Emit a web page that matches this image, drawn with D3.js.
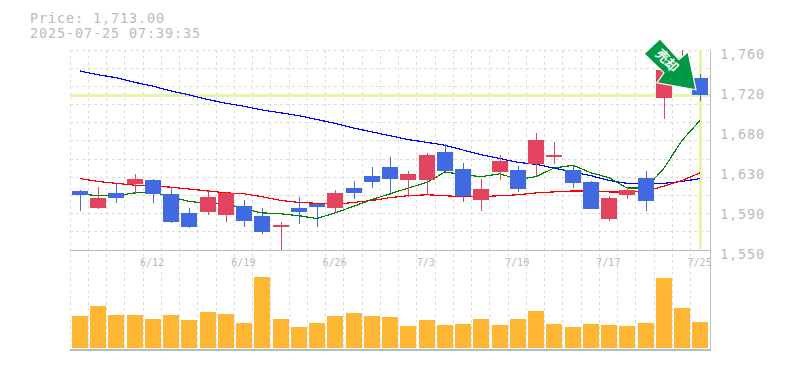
<!DOCTYPE html>
<html>
<head>
<meta charset="utf-8">
<script src="https://cdn.jsdelivr.net/npm/d3@7"></script>
<style>
  html, body { margin: 0; padding: 0; background: #fff; overflow: hidden; }
  text { font-family: "DejaVu Sans Mono", monospace; fill: #bbb; }
</style>
</head>
<body>
<script>
const dates = ["6/6","6/9","6/10","6/11","6/12","6/13","6/16","6/17","6/18","6/19","6/20","6/23","6/24","6/25","6/26","6/27","6/30","7/1","7/2","7/3","7/4","7/7","7/8","7/9","7/10","7/11","7/14","7/15","7/16","7/17","7/18","7/22","7/23","7/24","7/25"];
const dateTicks = ["6/12","6/19","6/26","7/3","7/10","7/17","7/25"];

const opens  = [1612,1594,1610,1619,1623,1609,1589,1590,1587,1596,1586,1574,1594,1598,1594,1615,1628,1637,1623,1623,1653,1635,1602,1632,1634,1640,1648,1634,1621,1583,1608,1626,1710,1728,1731];
const closes = [1608,1605,1605,1625,1609,1579,1574,1606,1610,1580,1569,1576,1590,1595,1610,1610,1621,1625,1630,1650,1633,1607,1614,1643,1614,1665,1650,1620,1593,1605,1613,1601,1739,1752,1713];
const highs  = [1613,1616,1620,1630,1625,1616,1594,1613,1611,1602,1594,1579,1606,1598,1613,1622,1637,1648,1633,1652,1661,1641,1625,1650,1638,1673,1663,1638,1622,1607,1616,1633,1750,1760,1735];
const lows   = [1591,1593,1599,1609,1599,1578,1573,1587,1579,1574,1567,1550,1577,1574,1589,1604,1615,1608,1606,1608,1633,1600,1591,1623,1611,1628,1640,1615,1593,1580,1604,1591,1688,1723,1706];
const volumes = [32,42,33,33,29,33,28,36,34,25,71,29,21,25,32,35,32,31,22,28,23,24,29,23,29,37,24,21,24,23,22,25,70,40,26];

const maShort = [1609,1607,1607,1610,1611,1606,1601,1599,1599,1593,1589,1588,1586,1583,1589,1596,1603,1609,1615,1621,1632,1629,1627,1630,1624,1627,1636,1639,1631,1626,1615,1615,1636,1665,1686];
const maMid   = [1625,1622,1620,1618,1617,1616,1614,1612,1610,1609,1606,1602,1600,1599,1598,1600,1602,1605,1607,1608,1607,1606,1606,1607,1608,1610,1611,1612,1612,1611,1611,1612,1617,1623,1631];
const maLong  = [1738,1734,1731,1726,1722,1717,1713,1708,1704,1701,1697,1694,1691,1687,1683,1678,1674,1670,1666,1663,1660,1655,1650,1646,1642,1640,1636,1632,1628,1623,1620,1619,1620,1622,1625];

const priceTicks  = [1760,1718,1676,1634,1592,1550];
const priceLabels = ["1,760","1,720","1,680","1,630","1,590","1,550"];
const lastPrice = 1713;
const titleLines = ["Price: 1,713.00","2025-07-25 07:39:35"];

const width = 785, height = 370;
const left = 70, right = 710, plotTop = 50, mid = 250, bottom = 350;
const candleW = 16;
const step = 18.25;

const svg = d3.select("body").append("svg")
  .attr("width", width)
  .attr("height", height)
  .style("display", "block");

const xBand = d3.scaleBand().domain(d3.range(dates.length)).range([left, left + dates.length * step]);
const y = d3.scaleLinear().domain([1550, 1760]).range([mid, plotTop]);
const yVol = d3.scaleLinear().domain([0, 100]).range([bottom - 2, bottom - 102]);

// 캔들 x 위치
const barX = i => Math.floor(xBand(i) + 2 + 0.3);
const midX = i => barX(i) + candleW / 2;

// 제목
svg.append("g").selectAll("text")
  .data(titleLines)
  .join("text")
  .attr("x", 30)
  .attr("y", (d, i) => 23 + i * 15)
  .attr("font-size", 13.5)
  .attr("letter-spacing", 0.87)
  .text(d => d);

// 그리드
const grid = svg.append("g")
  .attr("stroke", "#ddd")
  .attr("stroke-dasharray", "3,3")
  .attr("shape-rendering", "crispEdges");

grid.selectAll("line.h")
  .data(d3.range(11))
  .join("line")
  .classed("h", true)
  .attr("x1", left)
  .attr("x2", right)
  .attr("y1", d => Math.floor(plotTop + d * (mid - plotTop) / 11) + 0.5)
  .attr("y2", d => Math.floor(plotTop + d * (mid - plotTop) / 11) + 0.5);

grid.selectAll("line.v")
  .data(d3.range(dates.length))
  .join("line")
  .classed("v", true)
  .attr("x1", d => Math.floor(xBand(d)) + 0.5)
  .attr("x2", d => Math.floor(xBand(d)) + 0.5)
  .attr("y1", plotTop)
  .attr("y2", bottom);

// 날짜 축
const xAxis = d3.axisBottom(xBand)
  .tickSize(0)
  .tickValues(dateTicks.map(d => dates.indexOf(d)))
  .tickFormat(i => dates[i]);
const xg = svg.append("g")
  .attr("transform", `translate(0, ${mid})`)
  .call(xAxis);
xg.attr("font-family", null);
xg.select(".domain").remove();
xg.selectAll("text")
  .attr("font-size", 10)
  .attr("y", 16)
  .attr("dy", 0)
  .style("fill", "#bbb");

// 가격 축
const yAxis = d3.axisRight(y)
  .tickSize(0)
  .tickValues(priceTicks)
  .tickFormat((d, i) => priceLabels[i]);
const yg = svg.append("g")
  .attr("transform", `translate(${right}, 0)`)
  .call(yAxis);
yg.attr("font-family", null);
yg.select(".domain").remove();
yg.selectAll("text")
  .attr("font-size", 13.5)
  .attr("letter-spacing", 0.87)
  .attr("x", 10)
  .attr("dy", 8)
  .attr("y", 0)
  .style("fill", "#bbb");

// 현재가 십자선
svg.append("rect")
  .attr("x", left)
  .attr("y", Math.round(y(lastPrice)) - 1)
  .attr("width", right - left)
  .attr("height", 3)
  .attr("fill", "#e3f5a8");
svg.append("rect")
  .attr("x", midX(dates.length - 1) - 1)
  .attr("y", plotTop)
  .attr("width", 3)
  .attr("height", mid - plotTop - 1)
  .attr("fill", "#e3f5a8");

// 이동평균선
const line = d3.line().x((d, i) => midX(i)).y(d => y(d));
[[maLong, "#0000ff"], [maMid, "#ff0000"], [maShort, "#008000"]].forEach(([series, color]) => {
  svg.append("path")
    .attr("d", line(series))
    .attr("fill", "none")
    .attr("stroke", color)
    .attr("stroke-width", 1.2)
    .attr("shape-rendering", "crispEdges");
});

// 캔들
const candleColor = i => closes[i] > opens[i] ? "#e2445f" : "#4169e1";
const candles = svg.append("g").attr("shape-rendering", "crispEdges");

candles.selectAll("rect.pin")
  .data(d3.range(dates.length))
  .join("rect")
  .classed("pin", true)
  .attr("x", i => midX(i))
  .attr("y", i => y(highs[i]))
  .attr("width", 1)
  .attr("height", i => y(lows[i]) - y(highs[i]))
  .attr("fill", candleColor);

candles.selectAll("rect.body")
  .data(d3.range(dates.length))
  .join("rect")
  .classed("body", true)
  .attr("x", i => barX(i))
  .attr("y", i => y(Math.max(opens[i], closes[i])))
  .attr("width", candleW)
  .attr("height", i => Math.abs(y(opens[i]) - y(closes[i])))
  .attr("fill", candleColor);

// 거래량
svg.append("g")
  .attr("shape-rendering", "crispEdges")
  .selectAll("rect")
  .data(volumes)
  .join("rect")
  .attr("x", (d, i) => barX(i))
  .attr("y", d => yVol(d))
  .attr("width", candleW)
  .attr("height", d => yVol(0) - yVol(d))
  .attr("fill", "#ffb733");

// 테두리
svg.append("path")
  .attr("d", `M${left},${mid + 0.5}H${right}M${right + 0.5},${plotTop}V${bottom}M${left},${bottom - 0.5}H${right}M${left},${bottom + 0.5}H${right + 1}`)
  .attr("fill", "none")
  .attr("stroke", "#bbb")
  .attr("shape-rendering", "crispEdges");

// 신호 화살표
const tipX = midX(dates.length - 1) - 4;
const tipY = y(lastPrice) - 5;
const arrow = svg.append("g").attr("transform", `translate(${tipX}, ${tipY})`);
arrow.append("path")
  .attr("d", "M0,0L-39,-7L-32,-17L-52,-36L-36,-51L-17,-30L-8,-38Z")
  .attr("fill", "#009944")
  .attr("stroke", "#fff")
  .attr("stroke-width", 1.2);
arrow.append("text")
  .attr("transform", "translate(-29,-29) rotate(45)")
  .attr("text-anchor", "middle")
  .attr("dy", 4.5)
  .attr("font-size", 13)
  .attr("font-weight", "bold")
  .style("font-family", '"Noto Sans CJK JP"')
  .style("fill", "#fff")
  .text("売却");
</script>
</body>
</html>
